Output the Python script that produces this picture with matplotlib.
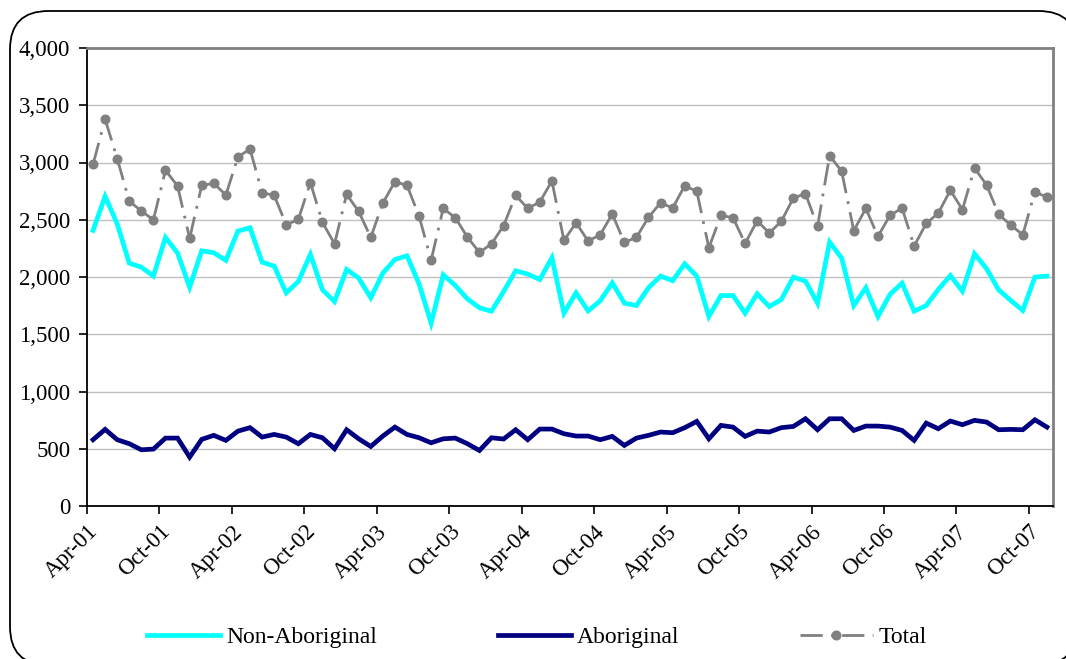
import numpy as np
import matplotlib
matplotlib.use("Agg")
import matplotlib.pyplot as plt
from matplotlib.collections import LineCollection
from matplotlib.lines import Line2D
from matplotlib.patches import FancyBboxPatch
from matplotlib.ticker import FuncFormatter

plt.rcParams['font.family'] = ['Liberation Serif', 'DejaVu Serif']

# Monthly data, Apr-01 .. Nov-07
tick_labels = ['Apr-01', 'Oct-01', 'Apr-02', 'Oct-02', 'Apr-03', 'Oct-03', 'Apr-04',
               'Oct-04', 'Apr-05', 'Oct-05', 'Apr-06', 'Oct-06', 'Apr-07', 'Oct-07']

non_aboriginal = [2407, 2704, 2465, 2121, 2086, 2008, 2346, 2209, 1911, 2229,
                  2212, 2145, 2401, 2430, 2130, 2095, 1862, 1961, 2197, 1888,
                  1786, 2066, 1990, 1818, 2034, 2153, 2185, 1940, 1597, 2019,
                  1926, 1809, 1731, 1701, 1873, 2054, 2025, 1978, 2168, 1684,
                  1862, 1704, 1792, 1949, 1771, 1751, 1906, 2008, 1967, 2115,
                  2008, 1655, 1838, 1838, 1684, 1853, 1742, 1803, 1999, 1964,
                  1771, 2305, 2165, 1751, 1906, 1655, 1848, 1946, 1701, 1751,
                  1891, 2013, 1876, 2203, 2072, 1888, 1795, 1708, 1999, 2008]

aboriginal = [579, 669, 579, 544, 491, 497, 593, 593, 427, 582,
              617, 573, 654, 684, 602, 625, 602, 544, 625, 596,
              500, 666, 587, 520, 611, 689, 625, 596, 552, 587,
              593, 544, 485, 596, 585, 666, 579, 672, 672, 631,
              611, 611, 579, 608, 529, 593, 617, 646, 640, 684,
              739, 587, 704, 689, 608, 654, 646, 684, 695, 762,
              666, 762, 762, 660, 698, 698, 689, 660, 573, 724,
              675, 742, 710, 748, 733, 666, 669, 666, 753, 689]

total = [2984, 3378, 3034, 2663, 2576, 2500, 2932, 2795, 2337, 2800,
         2818, 2716, 3048, 3118, 2736, 2713, 2456, 2503, 2824, 2477,
         2290, 2722, 2573, 2346, 2646, 2832, 2800, 2532, 2147, 2599,
         2518, 2349, 2214, 2290, 2448, 2713, 2599, 2655, 2838, 2319,
         2474, 2314, 2369, 2550, 2302, 2346, 2521, 2649, 2602, 2797,
         2748, 2255, 2538, 2518, 2293, 2491, 2384, 2486, 2690, 2728,
         2442, 3060, 2923, 2404, 2599, 2354, 2538, 2602, 2270, 2468,
         2558, 2757, 2588, 2952, 2803, 2547, 2453, 2369, 2745, 2696]

W, H = 1066, 659
fig = plt.figure(figsize=(W / 100, H / 100), dpi=100)

# rounded outer border (partly running off the canvas, as in the original)
bx0, by0, bx1, by1 = 10, 11, 1077, 665   # pixel box (top-left origin)
border = FancyBboxPatch((bx0 / W, 1 - by1 / H), (bx1 - bx0) / W, (by1 - by0) / H,
                        boxstyle="round,pad=0,rounding_size=0.036",
                        transform=fig.transFigure, facecolor='white',
                        edgecolor='black', linewidth=1.3, zorder=0,
                        mutation_aspect=W / H, clip_on=False)
fig.patches.append(border)

ax = fig.add_axes([87 / W, 1 - 506 / H, (1053 - 87) / W, (506 - 48) / H])
ax.set_zorder(2)

x = np.arange(len(total))
CYAN = '#00FFFF'
NAVY = '#000080'
GREY = '#808080'

ax.plot(x, non_aboriginal, color=CYAN, lw=3.4, solid_joinstyle='miter', zorder=3)
ax.plot(x, aboriginal, color=NAVY, lw=3.4, solid_joinstyle='miter', zorder=3)

pts = np.column_stack([x, total])
segs = np.stack([pts[:-1], pts[1:]], axis=1)
lc = LineCollection(segs, colors=GREY, linewidths=2.0,
                    linestyles=[(0, (8, 3, 1, 3))], zorder=4)
ax.add_collection(lc)
ax.plot(x, total, linestyle='none', marker='o', markersize=6.2,
        color=GREY, zorder=5)

ax.set_xlim(-0.5, len(total) - 0.5)
ax.set_ylim(0, 4000)
ax.set_yticks(np.arange(0, 4001, 500))
ax.yaxis.set_major_formatter(FuncFormatter(lambda v, p: f"{int(v):,}"))
ax.set_xticks(np.arange(len(tick_labels)) * 6 - 0.5)
ax.set_xticklabels(tick_labels, rotation=45, ha='right', va='top',
                   rotation_mode='anchor')
ax.tick_params(axis='both', direction='out', length=6, width=1.2,
               color='black', labelsize=16.5)
ax.tick_params(axis='y', pad=6)
ax.tick_params(axis='x', pad=5)

ax.grid(axis='y', color='#c0c0c0', lw=1.0)
ax.set_axisbelow(True)
for s in ['top', 'right']:
    ax.spines[s].set_color(GREY)
    ax.spines[s].set_linewidth(2.0)
for s in ['left', 'bottom']:
    ax.spines[s].set_color('black')
    ax.spines[s].set_linewidth(1.3)

handles = [Line2D([], [], color=CYAN, lw=3.4),
           Line2D([], [], color=NAVY, lw=3.4),
           Line2D([], [], color=GREY, lw=2.0, dashes=(8, 3, 1, 3),
                  marker='o', markersize=6.2)]
fig.legend(handles, ['Non-Aboriginal', 'Aboriginal', 'Total'],
           loc='center', bbox_to_anchor=(537 / W, 1 - 637 / H), ncol=3,
           frameon=False, fontsize=17, handlelength=3.1, handletextpad=0.25,
           columnspacing=5.1)

fig.savefig('out.png', dpi=100)
